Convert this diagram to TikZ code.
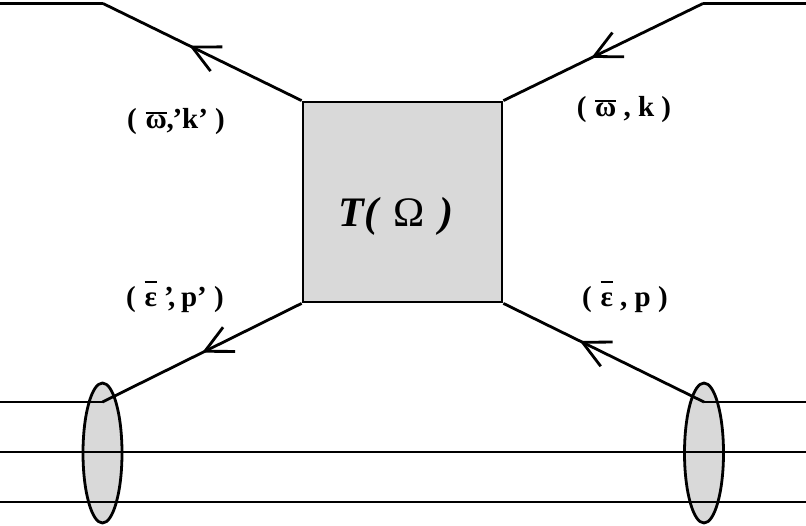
\documentclass[tikz,border=0pt]{standalone}
\usepackage{fontspec}
\setmainfont{Liberation Serif}
\usetikzlibrary{arrows.meta,decorations.markings,shapes.geometric}
\definecolor{boxgray}{RGB}{217,217,217}
\newcommand\ovl[2]{\setbox0\hbox{#2}\rlap{\raisebox{#1}{\rule{\wd0}{2pt}}}\box0}
\begin{document}
\begin{tikzpicture}[x=1pt,y=-1pt,line width=2.8pt,
  barb/.style={postaction={decorate},decoration={markings,
    mark=at position #1 with {\arrow{Straight Barb[length=27pt,width=27pt]}}}},
  lab/.style={anchor=base,font=\bfseries\fontsize{29}{33}\selectfont},
  blob/.style={draw,fill=boxgray,ellipse,minimum width=39pt,minimum height=140pt,inner sep=0pt}]
\useasboundingbox (0,0) rectangle (806,525);
% ellipses
\node[blob] (eL) at (102.5,453) {};
\node[blob] (eR) at (704,453) {};
% horizontal lines
\coordinate (h1l) at (0,402);
\coordinate (jL) at (102.5,402);
\coordinate (jR) at (704,402);
\coordinate (h1r) at (806,402);
\coordinate (h2l) at (0,452);
\coordinate (h2r) at (806,452);
\coordinate (h3l) at (0,502);
\coordinate (h3r) at (806,502);
\draw (h1l) -- (jL);
\draw (jR) -- (h1r);
\draw (h2l) -- (h2r);
\draw (h3l) -- (h3r);
% box
\node[draw,fill=boxgray,minimum width=199pt,minimum height=200pt,inner sep=0pt] (T) at (402.5,202) {};
% top legs
\coordinate (tlo) at (0,3.5);
\coordinate (tlk) at (103,3.5);
\coordinate (trk) at (703,3.5);
\coordinate (tro) at (806,3.5);
\draw (tlo) -- (tlk);
\draw (trk) -- (tro);
\draw[barb=0.565] (T.north west) -- (tlk);
\draw[barb=0.56] (trk) -- (T.north east);
% bottom legs
\draw[barb=0.5] (T.south west) -- (jL);
\draw[barb=0.62] (jR) -- (T.south east);
% labels
\node[lab] (l1) at (176,128) {(\hspace{0.3em}\ovl{0.5em}{ω},\kern-0.05em’k’\hspace{0.25em})};
\node[lab] (l2) at (624,116) {(\hspace{0.3em}\ovl{0.5em}{ω}\hspace{0.25em},\hspace{0.25em}k\hspace{0.25em})};
\node[lab] (l3) at (175,306) {(\hspace{0.3em}\ovl{0.8em}{ε}\hspace{0.25em}’\kern-0.2em,\hspace{0.2em}p’\hspace{0.25em})};
\node[lab] (l4) at (625,306) {(\hspace{0.3em}\ovl{0.8em}{ε}\hspace{0.25em},\hspace{0.25em}p\hspace{0.25em})};
\node[anchor=base,font=\fontsize{42}{48}\selectfont\bfseries\itshape] (tl) at (396,226) {T(\hspace{0.35em}{\mdseries\upshape Ω}\hspace{0.35em})};
\end{tikzpicture}
\end{document}
